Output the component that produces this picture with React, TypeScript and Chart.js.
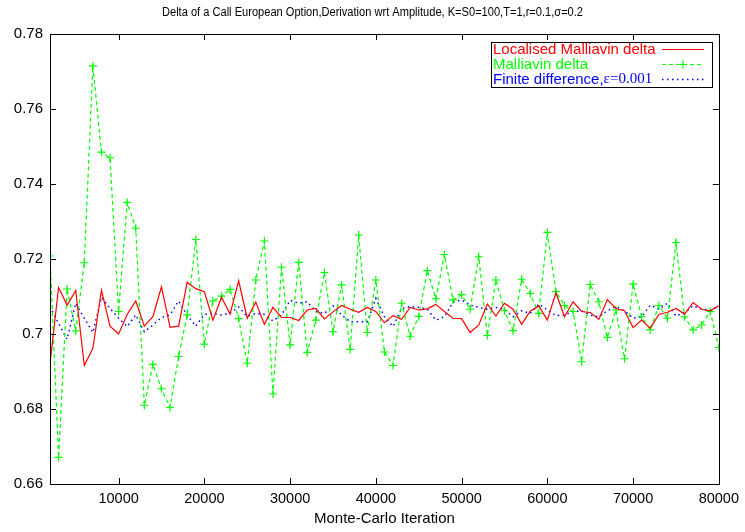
import React, { useEffect, useRef } from "react";
import { Chart, registerables } from "chart.js";

Chart.register(...registerables);

const iterations = [
  2000, 3000, 4000, 5000, 6000, 7000, 8000, 9000, 10000, 11000, 12000, 13000, 14000, 15000, 16000, 17000,
  18000, 19000, 20000, 21000, 22000, 23000, 24000, 25000, 26000, 27000, 28000, 29000, 30000, 31000, 32000, 33000,
  34000, 35000, 36000, 37000, 38000, 39000, 40000, 41000, 42000, 43000, 44000, 45000, 46000, 47000, 48000, 49000,
  50000, 51000, 52000, 53000, 54000, 55000, 56000, 57000, 58000, 59000, 60000, 61000, 62000, 63000, 64000, 65000,
  66000, 67000, 68000, 69000, 70000, 71000, 72000, 73000, 74000, 75000, 76000, 77000, 78000, 79000, 80000,
];

const localisedMalliavin = [
  0.692, 0.7124, 0.7077, 0.7116, 0.6916, 0.6962, 0.7117, 0.7021, 0.7, 0.7052, 0.7088, 0.7021, 0.7046, 0.7126, 0.7018, 0.7021,
  0.7138, 0.7121, 0.7113, 0.7037, 0.7098, 0.7053, 0.7142, 0.7042, 0.7085, 0.7026, 0.7071, 0.7044, 0.7044, 0.7036, 0.7064, 0.7068,
  0.704, 0.7059, 0.7076, 0.7066, 0.7058, 0.7071, 0.706, 0.703, 0.7049, 0.7039, 0.7071, 0.7064, 0.7067, 0.7079, 0.706, 0.7042,
  0.7041, 0.7004, 0.7024, 0.708, 0.7048, 0.7082, 0.7066, 0.7026, 0.7061, 0.7075, 0.7037, 0.711, 0.7046, 0.7086, 0.706, 0.7057,
  0.7039, 0.7092, 0.7068, 0.7062, 0.7017, 0.7037, 0.7015, 0.7052, 0.7058, 0.7068, 0.7053, 0.7084, 0.7066, 0.7062, 0.7075,
];

const malliavin = [
  0.7208, 0.6671, 0.712, 0.7008, 0.719, 0.7715, 0.7485, 0.747, 0.706, 0.7351, 0.7282, 0.681, 0.6919, 0.6854, 0.6804, 0.694,
  0.7051, 0.7252, 0.6973, 0.7088, 0.7101, 0.7119, 0.7041, 0.6922, 0.7144, 0.7248, 0.684, 0.7178, 0.6971, 0.7191, 0.6951, 0.7037,
  0.7164, 0.7006, 0.7131, 0.6959, 0.7264, 0.7004, 0.7144, 0.6952, 0.6916, 0.7082, 0.6994, 0.7047, 0.7169, 0.7094, 0.7212, 0.7091,
  0.7105, 0.7066, 0.7206, 0.6996, 0.7144, 0.7062, 0.7009, 0.7146, 0.7108, 0.7055, 0.7271, 0.7113, 0.7076, 0.706, 0.6926, 0.7132,
  0.7086, 0.6991, 0.7064, 0.6934, 0.7133, 0.7046, 0.7011, 0.7076, 0.7042, 0.7244, 0.7046, 0.7011, 0.7024, 0.706, 0.6964,
];

const finiteDifference = [
  0.7073, 0.7028, 0.6986, 0.7082, 0.7042, 0.7004, 0.7098, 0.7068, 0.7042, 0.702, 0.7051, 0.7006, 0.7024, 0.7044, 0.7051, 0.7088,
  0.705, 0.7021, 0.7052, 0.7055, 0.7051, 0.7055, 0.7072, 0.7047, 0.7055, 0.7052, 0.7035, 0.7051, 0.709, 0.7082, 0.7086, 0.706,
  0.7055, 0.7075, 0.7051, 0.7033, 0.7033, 0.7033, 0.7095, 0.7046, 0.702, 0.7068, 0.7073, 0.7071, 0.7066, 0.7037, 0.7046, 0.7085,
  0.7091, 0.7077, 0.7071, 0.7066, 0.7071, 0.7066, 0.7046, 0.7062, 0.7055, 0.708, 0.7064, 0.7049, 0.7051, 0.706, 0.7062, 0.705,
  0.7046, 0.7062, 0.7073, 0.7062, 0.7042, 0.7046, 0.7077, 0.7066, 0.7082, 0.7048, 0.7057, 0.7075, 0.7066, 0.7064, 0.7075,
];

const xTicks = [10000, 20000, 30000, 40000, 50000, 60000, 70000, 80000];
const yTicks = [0.66, 0.68, 0.7, 0.72, 0.74, 0.76, 0.78];

const titleText = "Delta of a Call European Option,Derivation wrt Amplitude, K=S0=100,T=1,r=0.1,σ=0.2";
const xTitle = "Monte-Carlo Iteration";
const legendLabels = ["Localised Malliavin delta", "Malliavin delta", "Finite difference,"];
const legendEpsilon = "ε=0.001";

const SANS = '"Liberation Sans", Arial, Helvetica, sans-serif';
const SERIF = '"Liberation Serif", "Times New Roman", serif';

const framePlugin = {
  id: "gnuplotFrame",
  afterDatasetsDraw(chart: any) {
    const { ctx, chartArea, scales } = chart;
    const { left, right, top, bottom } = chartArea;
    ctx.save();
    ctx.strokeStyle = "#000";
    ctx.lineWidth = 1;
    ctx.setLineDash([]);
    ctx.beginPath();
    ctx.rect(Math.round(left) + 0.5, Math.round(top) + 0.5, Math.round(right - left), Math.round(bottom - top));
    ctx.stroke();
    const tl = 6;
    ctx.beginPath();
    for (const v of xTicks) {
      const px = Math.round(scales.x.getPixelForValue(v)) + 0.5;
      ctx.moveTo(px, bottom);
      ctx.lineTo(px, bottom - tl);
      ctx.moveTo(px, top);
      ctx.lineTo(px, top + tl);
    }
    for (const v of yTicks) {
      const py = Math.round(scales.y.getPixelForValue(v)) + 0.5;
      ctx.moveTo(left, py);
      ctx.lineTo(left + tl, py);
      ctx.moveTo(right, py);
      ctx.lineTo(right - tl, py);
    }
    ctx.stroke();

    // title (slightly condensed, as in the reference)
    ctx.fillStyle = "#000";
    ctx.font = `12px ${SANS}`;
    ctx.textAlign = "center";
    ctx.textBaseline = "middle";
    const tw = ctx.measureText(titleText).width;
    const sx = Math.min(1, 421 / tw);
    ctx.save();
    ctx.translate(chart.width / 2, 13);
    ctx.scale(sx, 1);
    ctx.fillText(titleText, 0, 0);
    ctx.restore();

    // legend
    const bx = 491, by = 42, bw = 221, bh = 45;
    ctx.fillStyle = "#fff";
    ctx.fillRect(bx, by, bw, bh);
    ctx.strokeStyle = "#000";
    ctx.lineWidth = 1;
    ctx.strokeRect(bx + 0.5, by + 0.5, bw, bh);
    const rows = [49.5, 64.5, 79.5];
    const colors = ["#ff0000", "#00ff00", "#0000ff"];
    ctx.textAlign = "left";
    ctx.textBaseline = "middle";
    for (let i = 0; i < 3; i++) {
      ctx.font = `15px ${SANS}`;
      ctx.fillStyle = colors[i];
      ctx.fillText(legendLabels[i], 493, rows[i]);
      if (i === 2) {
        const w = ctx.measureText(legendLabels[i]).width;
        ctx.font = `15px ${SERIF}`;
        ctx.fillText(legendEpsilon, 493 + w, rows[i]);
      }
    }
    const sx0 = 662, sx1 = 704;
    ctx.lineWidth = 1.2;
    ctx.strokeStyle = colors[0];
    ctx.setLineDash([]);
    ctx.beginPath();
    ctx.moveTo(sx0, rows[0]);
    ctx.lineTo(sx1, rows[0]);
    ctx.stroke();
    ctx.strokeStyle = colors[1];
    ctx.setLineDash([4, 3]);
    ctx.beginPath();
    ctx.moveTo(sx0, rows[1]);
    ctx.lineTo(sx1, rows[1]);
    ctx.stroke();
    ctx.setLineDash([]);
    ctx.beginPath();
    ctx.moveTo(683 - 4, rows[1]);
    ctx.lineTo(683 + 4, rows[1]);
    ctx.moveTo(683, rows[1] - 4);
    ctx.lineTo(683, rows[1] + 4);
    ctx.stroke();
    ctx.strokeStyle = colors[2];
    ctx.lineWidth = 1.5;
    ctx.setLineDash([1.5, 3.5]);
    ctx.beginPath();
    ctx.moveTo(sx0, rows[2]);
    ctx.lineTo(sx1, rows[2]);
    ctx.stroke();
    ctx.restore();
  },
};

export default function App() {
  const ref = useRef<HTMLCanvasElement | null>(null);

  useEffect(() => {
    if (!ref.current) return;
    const toPoints = (ys: number[]) => iterations.map((x, i) => ({ x, y: ys[i] }));
    const chart = new Chart(ref.current, {
      type: "line",
      data: {
        datasets: [
          {
            label: legendLabels[0],
            data: toPoints(localisedMalliavin),
            borderColor: "#ff0000",
            borderWidth: 1.2,
            pointRadius: 0,
            tension: 0,
            fill: false,
          },
          {
            label: legendLabels[1],
            data: toPoints(malliavin),
            borderColor: "#00ff00",
            borderWidth: 1.2,
            borderDash: [4, 3],
            pointStyle: "cross",
            pointRadius: 4,
            pointBorderWidth: 1.2,
            pointBorderColor: "#00ff00",
            pointBackgroundColor: "#00ff00",
            tension: 0,
            fill: false,
          },
          {
            label: legendLabels[2] + legendEpsilon,
            data: toPoints(finiteDifference),
            borderColor: "#0000ff",
            borderWidth: 1.5,
            borderDash: [1.5, 3.5],
            pointRadius: 0,
            tension: 0,
            fill: false,
          },
        ],
      },
      options: {
        responsive: false,
        animation: false,
        events: [],
        layout: { padding: { top: 34, right: 23, left: 0, bottom: 0 } },
        plugins: {
          legend: { display: false },
          title: { display: false },
          tooltip: { enabled: false },
        },
        scales: {
          x: {
            type: "linear",
            min: 2000,
            max: 80000,
            afterBuildTicks: (scale: any) => {
              scale.ticks = xTicks.map((v) => ({ value: v }));
            },
            afterFit: (scale: any) => {
              scale.height = 48;
            },
            grid: { display: false, drawTicks: false },
            border: { display: false },
            ticks: {
              autoSkip: false,
              maxRotation: 0,
              padding: 6,
              color: "#000",
              font: { family: SANS, size: 14.5 },
              callback: (v: any) => String(v),
            },
            title: {
              display: true,
              text: xTitle,
              color: "#000",
              font: { family: SANS, size: 15 },
              padding: { top: 0, bottom: 4 },
            },
          },
          y: {
            type: "linear",
            min: 0.66,
            max: 0.78,
            afterBuildTicks: (scale: any) => {
              scale.ticks = yTicks.map((v) => ({ value: v }));
            },
            afterFit: (scale: any) => {
              scale.width = 50;
            },
            grid: { display: false, drawTicks: false },
            border: { display: false },
            ticks: {
              padding: 7,
              color: "#000",
              font: { family: SANS, size: 15 },
              callback: (v: any) => String(Number(Number(v).toFixed(2))),
            },
          },
        },
      },
      plugins: [framePlugin],
    });
    return () => chart.destroy();
  }, []);

  return (
    <div style={{ position: "absolute", left: 0, top: 0, width: 745, height: 532, background: "#fff" }}>
      <canvas ref={ref} width={745} height={532} style={{ width: 745, height: 532, display: "block" }} />
    </div>
  );
}
